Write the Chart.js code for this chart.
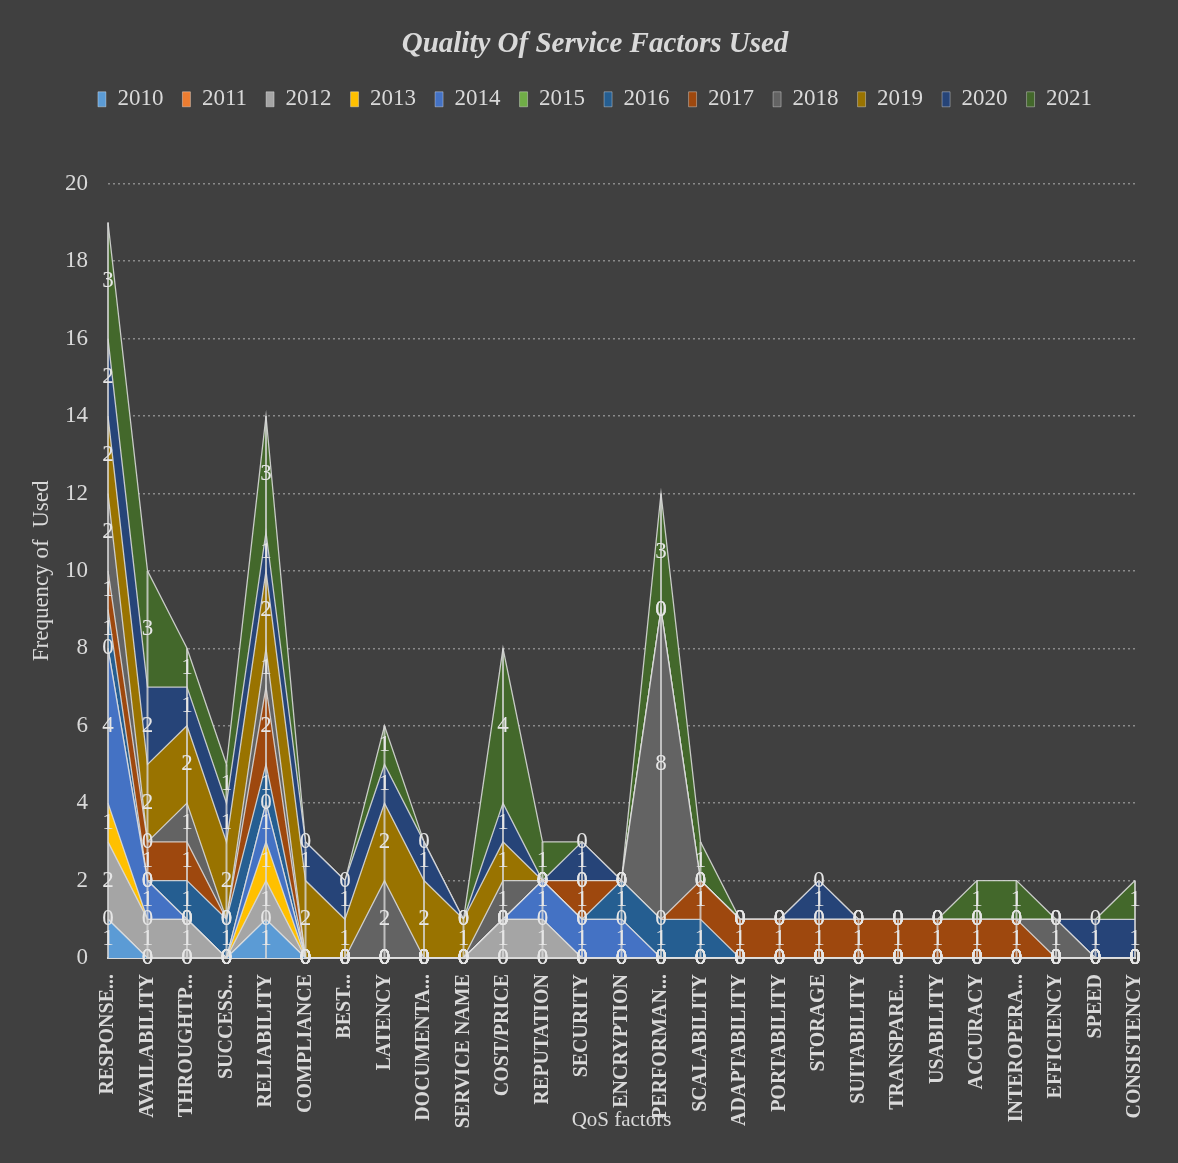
<!DOCTYPE html>
<html>
<head>
<meta charset="utf-8">
<script src="https://cdn.jsdelivr.net/npm/chart.js@4.4.1/dist/chart.umd.min.js"></script>
<style>
  html, body { margin: 0; padding: 0; background: #404040; }
  canvas { display: block; }
</style>
</head>
<body>
<canvas id="myChart" width="1178" height="1163"></canvas>
<script>
// QoS factors (x axis)
var categories = ['RESPONSE...', 'AVAILABILITY', 'THROUGHTP...', 'SUCCESS...', 'RELIABILITY', 'COMPLIANCE',
    'BEST...', 'LATENCY', 'DOCUMENTA...', 'SERVICE NAME', 'COST/PRICE', 'REPUTATION', 'SECURITY',
    'ENCRYPTION', 'PERFORMAN...', 'SCALABILITY', 'ADAPTABILITY', 'PORTABILITY', 'STORAGE', 'SUITABILITY',
    'TRANSPARE...', 'USABILITY', 'ACCURACY', 'INTEROPERA...', 'EFFICIENCY', 'SPEED', 'CONSISTENCY'];

var years = ['2010', '2011', '2012', '2013', '2014', '2015', '2016', '2017', '2018', '2019', '2020', '2021'];

// frequency per factor, one array per year
var y2010 = [1,0,0,0,1,0,0,0,0,0,0,0,0,0,0,0,0,0,0,0,0,0,0,0,0,0,0];
var y2011 = [0,0,0,0,0,0,0,0,0,0,0,0,0,0,0,0,0,0,0,0,0,0,0,0,0,0,0];
var y2012 = [2,1,1,0,1,0,0,0,0,0,1,1,0,0,0,0,0,0,0,0,0,0,0,0,0,0,0];
var y2013 = [1,0,0,0,1,0,0,0,0,0,0,0,0,0,0,0,0,0,0,0,0,0,0,0,0,0,0];
var y2014 = [4,1,0,0,1,0,0,0,0,0,0,1,1,1,0,0,0,0,0,0,0,0,0,0,0,0,0];
var y2015 = [0,0,0,0,0,0,0,0,0,0,0,0,0,0,0,0,0,0,0,0,0,0,0,0,0,0,0];
var y2016 = [1,0,1,1,1,0,0,0,0,0,0,0,0,1,1,1,0,0,0,0,0,0,0,0,0,0,0];
var y2017 = [1,1,1,0,2,0,0,0,0,0,0,0,1,0,0,1,1,1,1,1,1,1,1,1,0,0,0];
var y2018 = [2,0,1,0,1,0,0,2,0,0,1,0,0,0,8,0,0,0,0,0,0,0,0,0,1,0,0];
var y2019 = [2,2,2,2,2,2,1,2,2,1,1,0,0,0,0,0,0,0,0,0,0,0,0,0,0,0,0];
var y2020 = [2,2,1,1,1,1,1,1,1,0,1,0,1,0,0,0,0,0,1,0,0,0,0,0,0,1,1];
var y2021 = [3,3,1,1,3,0,0,1,0,0,4,1,0,0,3,1,0,0,0,0,0,0,1,1,0,0,1];

var seriesValues = [y2010, y2011, y2012, y2013, y2014, y2015, y2016, y2017, y2018, y2019, y2020, y2021];

var colors = ['#5B9BD5', '#ED7D31', '#A5A5A5', '#FFC000', '#4472C4', '#70AD47',
    '#255E91', '#9E480E', '#636363', '#997300', '#264478', '#43682B'];

var yMax = 20;
var yStep = 2;

var textColor = '#d9d9d9';
var serif = 'Liberation Serif';

var datasets = years.map(function (yr, i) {
    return {
        label: yr,
        data: seriesValues[i],
        backgroundColor: colors[i],
        borderColor: 'rgba(225,225,225,0.85)',
        borderWidth: 1.3,
        fill: i === 0 ? 'origin' : '-1',
        pointRadius: 0,
        tension: 0
    };
});

var background = {
    id: 'background',
    beforeDraw: function (chart) {
        var c = chart.ctx;
        c.save();
        c.fillStyle = '#404040';
        c.fillRect(0, 0, chart.width, chart.height);
        c.restore();
    }
};

// extra space under the legend
var legendGap = {
    id: 'legendGap',
    beforeInit: function (chart) {
        var fit = chart.legend.fit;
        chart.legend.fit = function () {
            fit.call(this);
            this.height += 63;
        };
    }
};

// drop lines and value labels
var stackLabels = {
    id: 'stackLabels',
    afterDatasetsDraw: function (chart) {
        var ctx = chart.ctx;
        var xs = chart.scales.x;
        var ys = chart.scales.y;
        ctx.save();
        ctx.strokeStyle = 'rgba(215,215,215,0.8)';
        ctx.lineWidth = 2;
        categories.forEach(function (c, i) {
            var total = 0;
            seriesValues.forEach(function (s) { total += s[i]; });
            var x = xs.getPixelForValue(i);
            ctx.beginPath();
            ctx.moveTo(x, ys.getPixelForValue(0));
            ctx.lineTo(x, ys.getPixelForValue(total));
            ctx.stroke();
        });
        ctx.font = '23px "' + serif + '"';
        ctx.fillStyle = '#e6e6e6';
        ctx.textAlign = 'center';
        ctx.textBaseline = 'middle';
        categories.forEach(function (c, i) {
            var cum = 0;
            seriesValues.forEach(function (s) {
                var v = s[i];
                ctx.fillText(String(v), xs.getPixelForValue(i), ys.getPixelForValue(cum + v / 2));
                cum += v;
            });
        });
        ctx.restore();
    }
};

var ctx = document.getElementById('myChart').getContext('2d');
var myChart = new Chart(ctx, {
    type: 'line',
    data: {
        labels: categories,
        datasets: datasets
    },
    plugins: [background, legendGap, stackLabels],
    options: {
        responsive: false,
        animation: false,
        layout: {
            padding: { left: 55, right: 43, top: 0, bottom: 0 }
        },
        plugins: {
            title: {
                display: true,
                text: 'Quality Of Service Factors Used',
                color: textColor,
                font: { family: serif, size: 29, style: 'italic', weight: 'bold' },
                padding: { top: 27, bottom: 7 }
            },
            legend: {
                position: 'top',
                labels: {
                    color: textColor,
                    font: { family: serif, size: 23 },
                    boxWidth: 8,
                    boxHeight: 15,
                    padding: 19,
                    generateLabels: function (chart) {
                        return chart.data.datasets.map(function (ds, i) {
                            return {
                                text: ds.label,
                                fillStyle: ds.backgroundColor,
                                strokeStyle: 'rgba(255,255,255,0.35)',
                                lineWidth: 1,
                                hidden: false,
                                datasetIndex: i,
                                fontColor: textColor
                            };
                        });
                    }
                }
            },
            tooltip: { enabled: false }
        },
        scales: {
            x: {
                grid: { display: false },
                border: { display: true, color: '#d9d9d9', width: 2 },
                ticks: {
                    autoSkip: false,
                    maxRotation: 90,
                    minRotation: 90,
                    color: textColor,
                    font: { family: serif, size: 20, weight: 'bold' },
                    padding: 8
                },
                title: {
                    display: true,
                    text: 'QoS factors',
                    color: textColor,
                    font: { family: serif, size: 21 },
                    padding: { top: 0, bottom: 30 }
                },
                afterFit: function (scale) { scale.height = 205; }
            },
            y: {
                stacked: true,
                min: 0,
                max: yMax,
                ticks: {
                    stepSize: yStep,
                    color: textColor,
                    font: { family: serif, size: 23 },
                    padding: 20
                },
                grid: {
                    color: function (c) { return c.tick.value === 0 ? 'rgba(0,0,0,0)' : '#8a8a8a'; },
                    lineWidth: 1.5,
                    drawTicks: false
                },
                border: { display: false, dash: [2, 3] },
                title: {
                    display: true,
                    text: 'Frequency of  Used',
                    color: textColor,
                    font: { family: serif, size: 23 },
                    padding: { top: -27, bottom: 0 }
                },
                afterFit: function (scale) { scale.width = 53; }
            }
        }
    }
});
</script>
</body>
</html>
